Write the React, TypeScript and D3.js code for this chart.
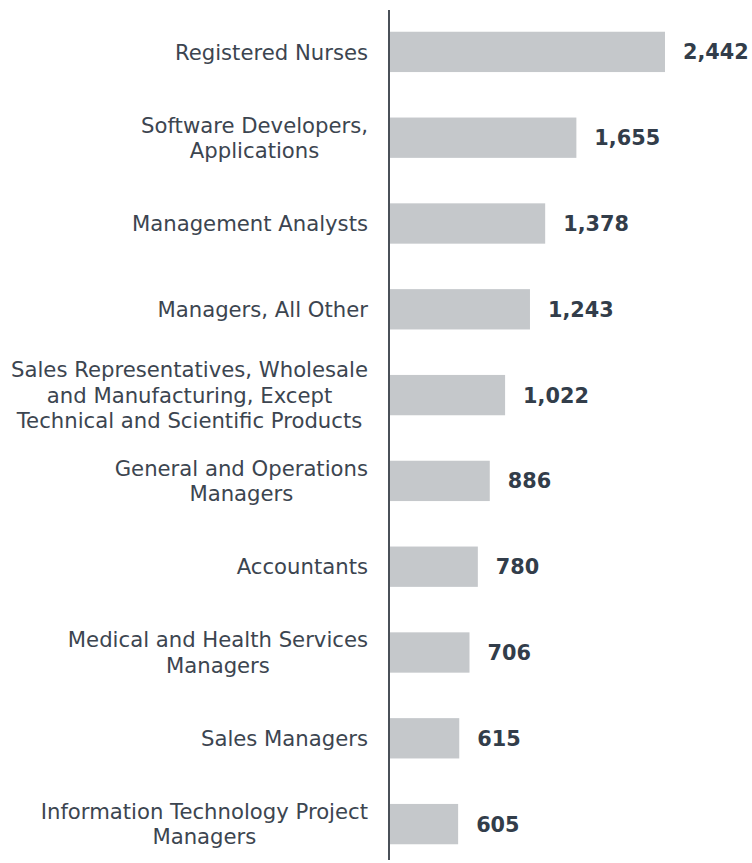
import React, { useEffect, useRef } from "react";
import * as d3 from "d3";

const categories: string[][] = [
  ["Registered Nurses"],
  ["Software Developers,", "Applications"],
  ["Management Analysts"],
  ["Managers, All Other"],
  ["Sales Representatives, Wholesale", "and Manufacturing, Except", "Technical and Scientific Products"],
  ["General and Operations", "Managers"],
  ["Accountants"],
  ["Medical and Health Services", "Managers"],
  ["Sales Managers"],
  ["Information Technology Project", "Managers"],
];
const values: number[] = [2442, 1655, 1378, 1243, 1022, 886, 780, 706, 615, 605];

const W = 752;
const H = 863;
const AXIS_X = 389;
const FONT = "'DejaVu Sans', Verdana, sans-serif";

export default function App() {
  const ref = useRef<SVGSVGElement>(null);
  useEffect(() => {
    const svg = d3.select(ref.current!);
    svg.selectAll("*").remove();
    const idx = values.map((_, i) => String(i));
    const y = d3.scaleBand<string>().domain(idx).range([9, 867]).paddingInner(0.53).paddingOuter(0.265);
    const x = d3.scaleLinear().domain([0, 2442]).range([AXIS_X + 1, 665]);

    svg.append("g").selectAll("rect").data(values).join("rect")
      .attr("x", x(0))
      .attr("y", (_, i) => y(String(i))!)
      .attr("width", (d) => x(d) - x(0))
      .attr("height", y.bandwidth())
      .attr("fill", "#c5c8cb");

    svg.append("g").selectAll("text").data(values).join("text")
      .attr("x", (d) => x(d) + 18)
      .attr("y", (_, i) => y(String(i))! + y.bandwidth() / 2)
      .attr("dy", "0.36em")
      .attr("font-family", FONT)
      .attr("font-weight", "bold")
      .attr("font-size", 20.8)
      .attr("fill", "#323d4a")
      .text((d) => d3.format(",")(d));

    const lh = 25.4;
    const lg = svg.append("g");
    categories.forEach((lines, i) => {
      const cy = y(String(i))! + y.bandwidth() / 2;
      const t = lg.append("text")
        .attr("font-family", FONT)
        .attr("font-size", 21.2)
        .attr("fill", "#3c4550")
        .attr("text-anchor", "middle");
      const spans = lines.map((ln, j) =>
        t.append("tspan")
          .attr("y", cy + (j - (lines.length - 1) / 2) * lh)
          .attr("dy", "0.36em")
          .text(ln)
      );
      let maxW = 0;
      spans.forEach((s) => {
        const w = (s.node() as SVGTSpanElement).getComputedTextLength();
        if (w > maxW) maxW = w;
      });
      const cx = 368 - maxW / 2;
      spans.forEach((s) => s.attr("x", cx));
    });

    svg.append("line")
      .attr("x1", AXIS_X).attr("x2", AXIS_X)
      .attr("y1", 10).attr("y2", 860)
      .attr("stroke", "#4a5058").attr("stroke-width", 2);
  }, []);
  return (
    <svg ref={ref} width={W} height={H} style={{ position: "absolute", left: 0, top: 0 }} />
  );
}
